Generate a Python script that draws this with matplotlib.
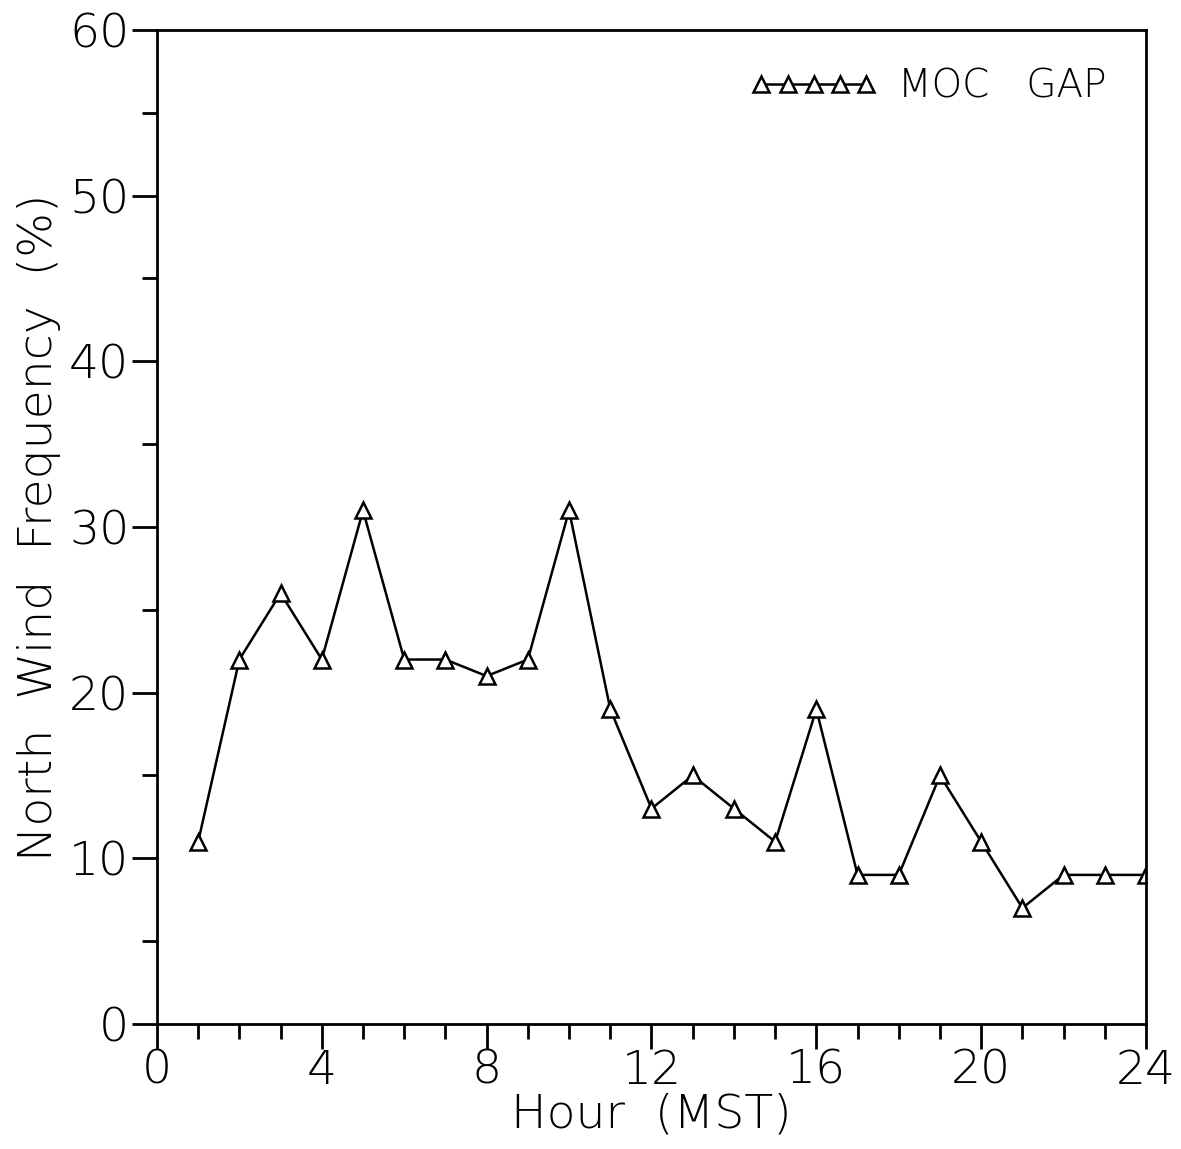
import matplotlib
matplotlib.use('Agg')
import matplotlib.pyplot as plt
from matplotlib.ticker import MultipleLocator

# hourly north wind frequency, MOC GAP site
hours = list(range(1, 25))
freq = [11, 22, 26, 22, 31, 22, 22, 21, 22, 31, 19, 13,
        15, 13, 11, 19, 9, 9, 15, 11, 7, 9, 9, 9]
series_label = 'MOC   GAP'
x_ticks = [0, 4, 8, 12, 16, 20, 24]
y_ticks = [0, 10, 20, 30, 40, 50, 60]

plt.rcParams['font.family'] = ['DejaVu Sans']

fig = plt.figure(figsize=(11.81, 11.49), dpi=100)
ax = fig.add_axes([0.1329, 0.1088, 0.8375, 0.8651])

ax.plot(hours, freq, color='black', linewidth=1.8, marker='^', markersize=11,
        markerfacecolor='white', markeredgecolor='black', markeredgewidth=1.8,
        label=series_label)

ax.set_xlim(0, 24)
ax.set_ylim(0, 60)
ax.set_xticks(x_ticks)
ax.set_yticks(y_ticks)
ax.xaxis.set_minor_locator(MultipleLocator(1))
ax.yaxis.set_minor_locator(MultipleLocator(5))
ax.tick_params(which='major', direction='out', length=18, width=2,
               labelsize=34, pad=2)
ax.tick_params(which='minor', direction='out', length=11, width=2)
ax.tick_params(axis='x', which='major', pad=0)
for lab in ax.get_xticklabels() + ax.get_yticklabels():
    lab.set_fontweight('light')
for s in ax.spines.values():
    s.set_linewidth(2)

ax.set_xlabel('Hour  (MST)', fontsize=34, fontweight='light', labelpad=0)
ax.set_ylabel('North  Wind  Frequency  (%)', fontsize=34, fontweight='light',
              labelpad=6)

leg = ax.legend(loc='upper right', frameon=False, numpoints=5, handlelength=3.3,
                fontsize=28, markerscale=1.0, handletextpad=0.5,
                bbox_to_anchor=(0.995, 0.997))
for t in leg.get_texts():
    t.set_fontweight('light')

fig.savefig('out.png', dpi=100)
